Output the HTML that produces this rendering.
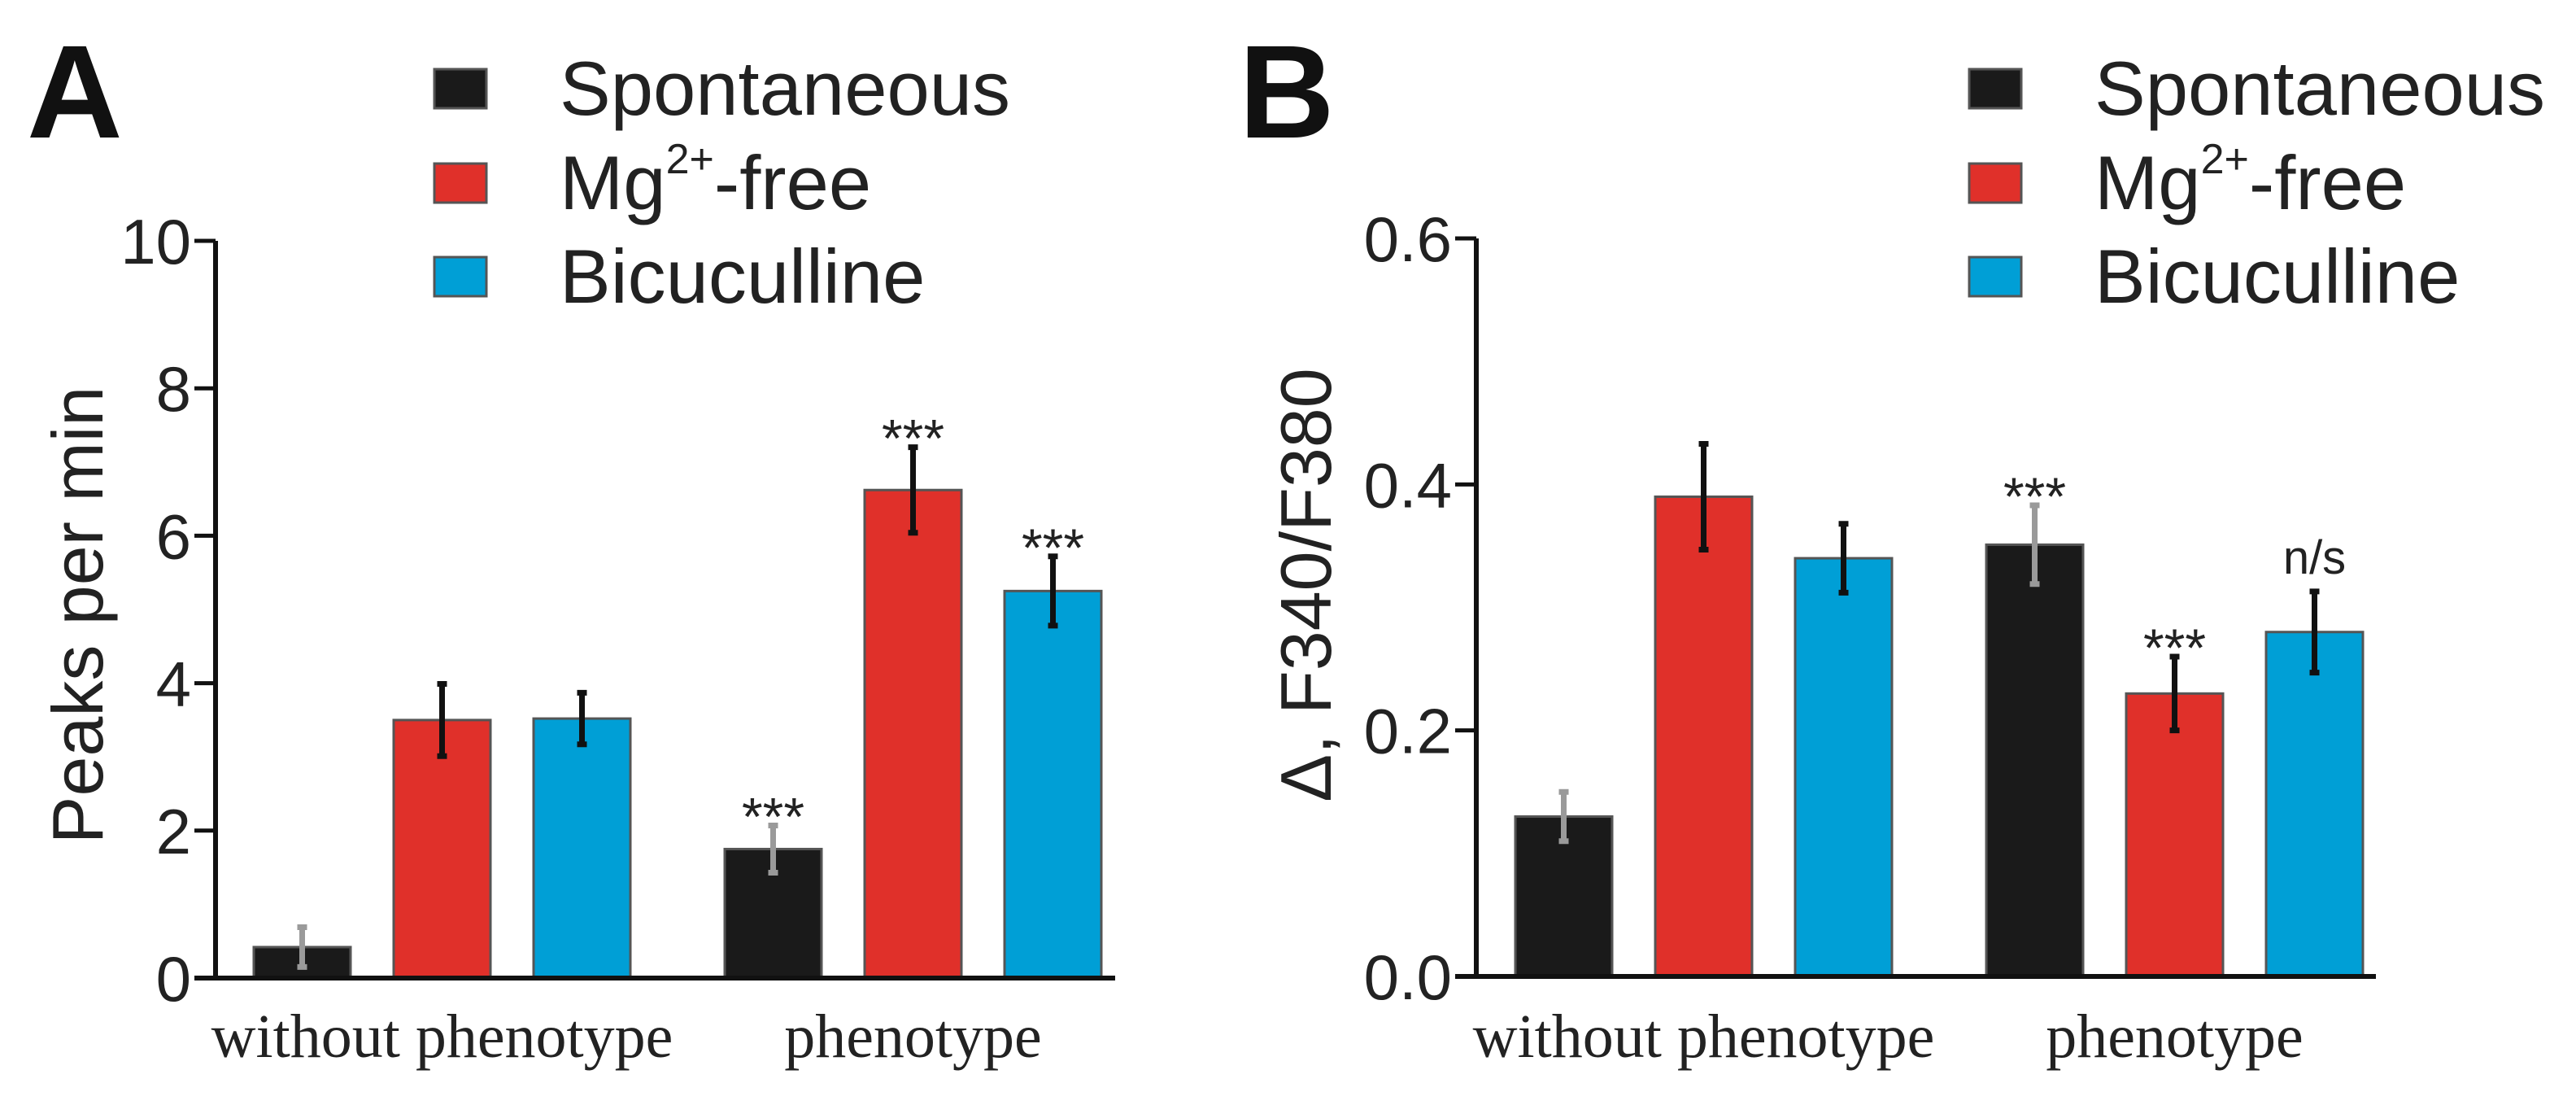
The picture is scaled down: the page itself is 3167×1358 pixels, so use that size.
<!DOCTYPE html>
<html><head><meta charset="utf-8"><style>
html,body{margin:0;padding:0;background:#fff;}
svg{display:block;}
.s{font-family:"Liberation Sans",sans-serif;}
.r{font-family:"Liberation Serif",serif;}
</style></head><body>
<svg id="chart" width="3167" height="1358" viewBox="0 0 3167 1358" xmlns="http://www.w3.org/2000/svg"></svg>
<script>
const groups = ["without phenotype", "phenotype"];
const seriesNames = ["Spontaneous", "Mg2+-free", "Bicuculline"];
const seriesColors = ["#1a1a1a", "#e0302a", "#009fd6"];
const valuesA_spont = [0.42, 1.75];
const valuesA_mg = [3.5, 6.62];
const valuesA_bic = [3.52, 5.25];
const errA_spont = [0.27, 0.32];
const errA_mg = [0.49, 0.58];
const errA_bic = [0.35, 0.47];
const sigA = [["", "***"], ["", "***"], ["", "***"]];
const ticksA = [0, 2, 4, 6, 8, 10];
const tickLabelsA = ["0", "2", "4", "6", "8", "10"];
const valuesB_spont = [0.13, 0.351];
const valuesB_mg = [0.39, 0.23];
const valuesB_bic = [0.34, 0.28];
const errB_spont = [0.02, 0.032];
const errB_mg = [0.043, 0.03];
const errB_bic = [0.028, 0.033];
const sigB = [["", "***"], ["", "***"], ["", "n/s"]];
const ticksB = [0, 0.2, 0.4, 0.6];
const tickLabelsB = ["0.0", "0.2", "0.4", "0.6"];

const NS = "http://www.w3.org/2000/svg";
const svg = document.getElementById("chart");
function mk(tag, attrs, parent, text) {
  const e = document.createElementNS(NS, tag);
  for (const k in attrs) e.setAttribute(k, attrs[k]);
  if (text !== undefined) e.textContent = text;
  (parent || svg).appendChild(e);
  return e;
}

function panel(p) {
  const g = mk("g", {});
  
  
  const y = v => p.y0 - (v / p.max) * (p.y0 - p.yTop);
  const bx = (gi, si) => p.barStart + gi * 579 + si * 172;
  const bw = 119;
  const L = mk("text", {x: p.letterX, y: 169, class: "s", "font-size": 163, "font-weight": "bold", fill: "#111"}, g, p.letter);
  
  
  const vals = [p.vs, p.vm, p.vb], errs = [p.es, p.em, p.eb];
  for (let si = 0; si < 3; si++) {
    for (let gi = 0; gi < groups.length; gi++) {
      const v = vals[si][gi], e = errs[si][gi];
      const x = bx(gi, si);
      const r = mk("rect", {x: x, y: y(v), width: bw, height: p.y0 - y(v), fill: seriesColors[si], stroke: "#555", "stroke-width": 3}, g);
      
      
      const cx = x + bw / 2;
      const col = si === 0 ? "#9a9a9a" : "#111";
      const eb = mk("path", {d: `M${cx} ${y(v + e)}V${y(v - e)}M${cx - 6} ${y(v + e)}H${cx + 6}M${cx - 6} ${y(v - e)}H${cx + 6}`, stroke: col, "stroke-width": 7, fill: "none"}, g);
      
      
      const sig = p.sig[si][gi];
      if (sig) {
        const isStar = sig === "***";
        const t = mk("text", {x: cx, y: isStar ? y(v + e) + 12 : y(v + e) - 22, class: "s", "font-size": isStar ? 66 : 58, "text-anchor": "middle", fill: "#222"}, g, sig);
        
        
      }
    }
  }
  const ax = mk("path", {d: `M${p.axisX} ${p.yTop}V${p.y0}M${p.axisX - 26} ${p.y0}H${p.xEnd}`, stroke: "#111", "stroke-width": 6, fill: "none"}, g);
  
  
  p.ticks.forEach((t, i) => {
    const tk = mk("line", {x1: p.axisX - 26, x2: p.axisX, y1: y(t), y2: y(t), stroke: "#111", "stroke-width": 5}, g);
    
    
    const tl = mk("text", {x: p.axisX - 30, y: y(t) + 28, class: "s", "font-size": 78, "text-anchor": "end", fill: "#222"}, g, p.tickLabels[i]);
    
    
  });
  const yt = mk("text", {x: 0, y: 0, class: "s", "font-size": 88, "text-anchor": "middle", fill: "#222", transform: `translate(${p.titleX},${p.titleY}) rotate(-90)`}, g, p.title);
  
  
  groups.forEach((name, gi) => {
    const cx = bx(gi, 1) + bw / 2;
    const xl = mk("text", {x: cx, y: 1299, class: "r", "font-size": 76, "text-anchor": "middle", fill: "#222"}, g, name);
    
    
  });
  const lys = [85, 201, 316];
  seriesNames.forEach((n, i) => {
    const sq = mk("rect", {x: p.legX, y: lys[i], width: 64, height: 48, fill: seriesColors[i], stroke: "#555", "stroke-width": 3}, g);
    
    
    const t = mk("text", {x: p.legX + 154, y: lys[i] + 56, class: "s", "font-size": 94, fill: "#222"}, g);
    
    
    if (i === 1) {
      t.appendChild(document.createTextNode("Mg"));
      mk("tspan", {"font-size": 52, dy: -44}, t, "2+");
      mk("tspan", {dy: 44}, t, "-free");
    } else t.textContent = n;
  });
}

panel({id: "a", letter: "A", letterX: 33, y0: 1202, yTop: 296, max: 10, axisX: 265, xEnd: 1371,
  barStart: 312, vs: valuesA_spont, vm: valuesA_mg, vb: valuesA_bic, es: errA_spont, em: errA_mg, eb: errA_bic,
  sig: sigA, ticks: ticksA, tickLabels: tickLabelsA, title: "Peaks per min", titleX: 126, titleY: 756, legX: 534});
panel({id: "b", letter: "B", letterX: 1523, y0: 1200, yTop: 293, max: 0.6, axisX: 1815, xEnd: 2921,
  barStart: 1863, vs: valuesB_spont, vm: valuesB_mg, vb: valuesB_bic, es: errB_spont, em: errB_mg, eb: errB_bic,
  sig: sigB, ticks: ticksB, tickLabels: tickLabelsB, title: "\u0394, F340/F380", titleX: 1636, titleY: 719, legX: 2421});
</script>
</body></html>
